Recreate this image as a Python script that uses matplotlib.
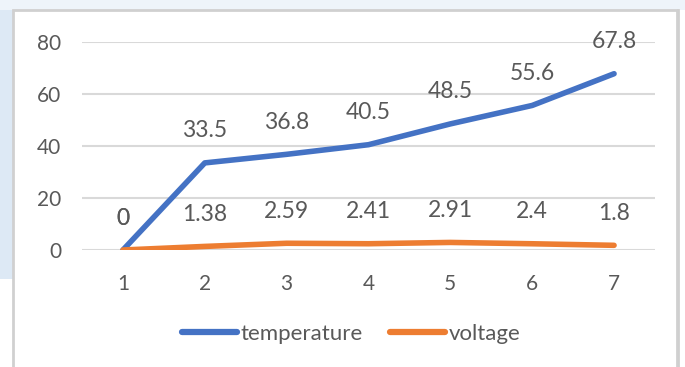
import matplotlib.pyplot as plt
from matplotlib.patches import Rectangle
from matplotlib.lines import Line2D

plt.rcParams['font.family'] = ['Lato', 'DejaVu Sans']

x = [1, 2, 3, 4, 5, 6, 7]
temperature = [0, 33.5, 36.8, 40.5, 48.5, 55.6, 67.8]
voltage = [0, 1.38, 2.59, 2.41, 2.91, 2.4, 1.8]

blue = "#4472C4"
orange = "#ED7D31"
grey_text = "#595959"

fig = plt.figure(figsize=(6.85, 3.67), dpi=100)
fig.patch.set_facecolor("white")

# page background around the chart frame
fig.patches.append(Rectangle((0, 0.24), 13 / 685, 0.76, transform=fig.transFigure,
                             facecolor="#dde9f5", edgecolor="none", zorder=0))
fig.patches.append(Rectangle((0, 1 - 10 / 367), 1, 10 / 367, transform=fig.transFigure,
                             facecolor="#eef4fa", edgecolor="none", zorder=0))
fig.patches.append(Rectangle((13 / 685, -0.05), 664 / 685, 1.05 - 10 / 367,
                             transform=fig.transFigure, facecolor="white",
                             edgecolor="#d0d0d0", linewidth=2, zorder=1))
# right edge of the frame
fig.lines.append(Line2D([678 / 685, 678 / 685], [0, 1 - 10 / 367],
                        transform=fig.transFigure, color="#cfcfcf", linewidth=2, zorder=1))

ax = fig.add_axes([82 / 685, 1 - 250 / 367, 573 / 685, 208 / 367])
ax.set_facecolor("none")
ax.set_zorder(2)

ax.plot(x, temperature, color=blue, linewidth=4, solid_capstyle="round", zorder=3)
ax.plot(x, voltage, color=orange, linewidth=4, solid_capstyle="round", zorder=3)

for xi, t in zip(x, temperature):
    ax.annotate(f"{t:g}", (xi, t), xytext=(0, 23), textcoords="offset points",
                ha="center", va="center", fontsize=16.5, color=grey_text)
for xi, v in zip(x, voltage):
    ax.annotate(f"{v:g}", (xi, v), xytext=(0, 23), textcoords="offset points",
                ha="center", va="center", fontsize=16.5, color=grey_text)

ax.set_xlim(0.5, 7.5)
ax.set_ylim(0, 80)
ax.set_xticks(x)
ax.set_yticks([0, 20, 40, 60, 80])
ax.tick_params(length=0, labelsize=15, labelcolor=grey_text)
ax.tick_params(axis="y", pad=15)
ax.tick_params(axis="x", pad=17)
ax.grid(axis="y", color="#d9d9d9", linewidth=1.5)
ax.set_axisbelow(True)
for s in ax.spines.values():
    s.set_visible(False)

handles = [Line2D([], [], color=blue, linewidth=4.5, solid_capstyle="round"),
           Line2D([], [], color=orange, linewidth=4.5, solid_capstyle="round")]
fig.legend(handles, ["temperature", "voltage"], loc="center",
           bbox_to_anchor=(351 / 685, 1 - 334 / 367), ncol=2, frameon=False,
           fontsize=16, labelcolor=grey_text, handlelength=2.5, handletextpad=0.15,
           columnspacing=1.2)

fig.savefig("out.png", dpi=100)
